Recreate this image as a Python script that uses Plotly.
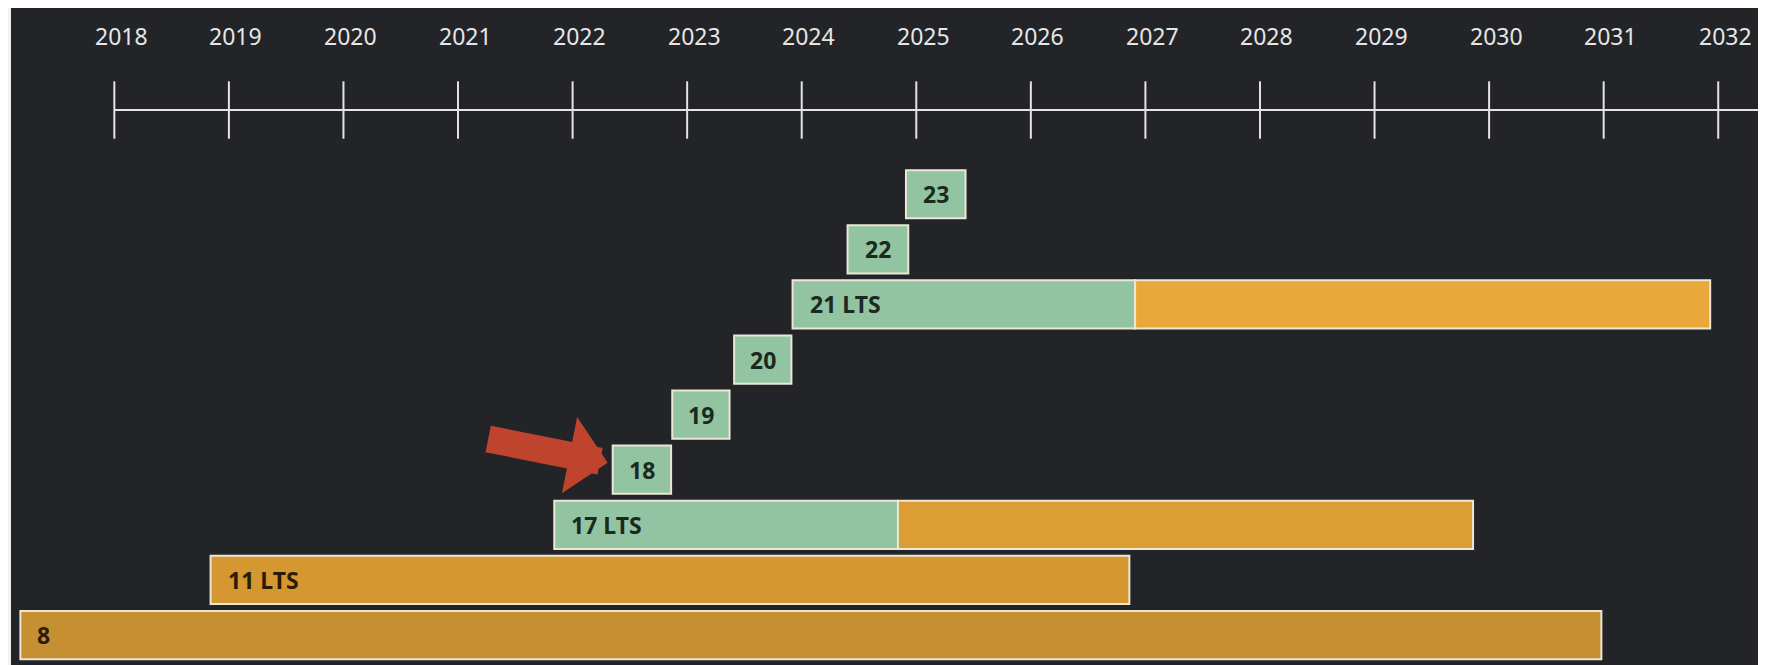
import plotly.graph_objects as go

# Java release timeline: release -> premier support end -> extended support end
versions = ["8", "11 LTS", "17 LTS", "18", "19", "20", "21 LTS", "22", "23"]
release = [2017.18, 2018.84, 2021.84, 2022.35, 2022.87, 2023.41, 2023.92, 2024.40, 2024.91]
premier_end = [None, None, 2024.84, 2022.86, 2023.37, 2023.91, 2026.91, 2024.93, 2025.43]
extended_end = [2030.98, 2026.86, 2029.86, None, None, None, 2031.93, None, None]
years = list(range(2018, 2033))

GREEN = "#92c4a2"
ORANGE = {"8": "#c68f32", "11 LTS": "#d5972f", "17 LTS": "#dc9d35", "21 LTS": "#eaa83a"}
EDGE = "#ece6d6"
BG = "#222428"
TEXT_DARK = "#1b2a20"
TEXT_BROWN = "#2b1c08"

X_RANGE = [2017.098, 2032.417]
Y_RANGE = [-0.544, 11.38]
AXIS_Y = 9.528
LABEL_Y = 10.87

fig = go.Figure()

for i, name in enumerate(versions):
    if premier_end[i] is not None:
        fig.add_trace(go.Bar(
            y=[i], x=[premier_end[i] - release[i]], base=[release[i]],
            orientation="h", width=0.875,
            marker=dict(color=GREEN, line=dict(color=EDGE, width=2)),
            hoverinfo="skip",
        ))
    if extended_end[i] is not None:
        start = premier_end[i] if premier_end[i] is not None else release[i]
        fig.add_trace(go.Bar(
            y=[i], x=[extended_end[i] - start], base=[start],
            orientation="h", width=0.875,
            marker=dict(color=ORANGE[name], line=dict(color=EDGE, width=2)),
            hoverinfo="skip",
        ))

    # labels: short releases centred, long-lived ones left-aligned
    if extended_end[i] is None:
        fig.add_annotation(
            x=(release[i] + premier_end[i]) / 2, y=i, text=f"<b>{name}</b>",
            showarrow=False, xanchor="center", yanchor="middle",
            font=dict(family="Noto Sans", size=23, color=TEXT_DARK),
        )
    else:
        color = TEXT_DARK if premier_end[i] is not None else TEXT_BROWN
        fig.add_annotation(
            x=release[i], y=i, text=f"<b>{name}</b>",
            showarrow=False, xanchor="left", yanchor="middle", xshift=15,
            font=dict(family="Noto Sans", size=23, color=color),
        )

# timeline axis drawn at the top
fig.add_trace(go.Scatter(
    x=[years[0], X_RANGE[1]], y=[AXIS_Y, AXIS_Y], mode="lines",
    line=dict(color="#e4e4e4", width=2), hoverinfo="skip",
))
fig.add_trace(go.Scatter(
    x=years, y=[AXIS_Y] * len(years), mode="markers",
    marker=dict(symbol="line-ns", size=41, line=dict(color="#e4e4e4", width=2)),
    hoverinfo="skip",
))
for yr in years:
    fig.add_annotation(
        x=yr, y=LABEL_Y, text=str(yr), showarrow=False, xshift=7,
        font=dict(family="Noto Sans", size=23, color="#e6e6e6"),
    )

# red arrow pointing at Java 18
i18 = versions.index("18")
fig.add_annotation(
    x=release[i18], y=i18, xshift=-5, yshift=7, text="",
    showarrow=True, arrowhead=1, arrowsize=0.48, arrowwidth=27,
    arrowcolor="#c0432e", ax=-121, ay=-24,
)

# the page body adds an 8px offset, so the figure is 8px smaller than the window
fig.update_layout(
    width=1758, height=657,
    margin=dict(l=3, r=0, t=0, b=0),
    paper_bgcolor="#f1f1f1", plot_bgcolor=BG,
    barmode="overlay", showlegend=False,
    xaxis=dict(range=X_RANGE, visible=False, fixedrange=True),
    yaxis=dict(range=Y_RANGE, visible=False, fixedrange=True),
)

fig.write_html("out.html")
